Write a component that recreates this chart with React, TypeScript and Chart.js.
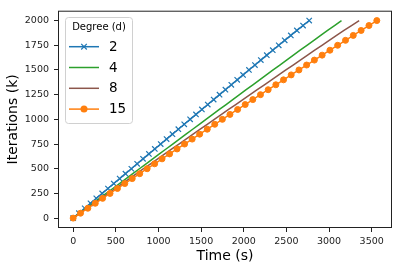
import { useEffect, useRef } from "react";
import { Chart, registerables } from "chart.js";

Chart.register(...registerables);

const iterations = [
  0, 50, 100, 150, 200, 250, 300, 350, 400, 450, 500, 550, 600, 650, 700, 750, 800, 850, 900, 950, 1000,
  1050, 1100, 1150, 1200, 1250, 1300, 1350, 1400, 1450, 1500, 1550, 1600, 1650, 1700, 1750, 1800, 1850, 1900, 1950, 2000,
];

const timeDeg2 = [
  0, 67, 135, 203, 271, 340, 408, 476, 545, 613, 682, 750, 819, 888, 957, 1026, 1095, 1164, 1233, 1302, 1371,
  1440, 1509, 1578, 1647, 1716, 1785, 1854, 1923, 1992, 2061, 2131, 2200, 2270, 2340, 2410, 2480, 2552, 2623, 2695, 2767,
];
const timeDeg4 = [
  0, 77, 154, 232, 309, 387, 465, 543, 621, 699, 777, 855, 933, 1011, 1089, 1167, 1245, 1323, 1401, 1479, 1557,
  1636, 1714, 1793, 1871, 1950, 2028, 2107, 2186, 2265, 2344, 2423, 2502, 2582, 2661, 2741, 2822, 2902, 2983, 3064, 3146,
];
const timeDeg8 = [
  0, 82, 164, 247, 329, 412, 494, 577, 660, 742, 825, 908, 991, 1074, 1157, 1240, 1323, 1406, 1489, 1572, 1655,
  1739, 1822, 1906, 1990, 2074, 2158, 2242, 2326, 2410, 2494, 2579, 2663, 2748, 2832, 2917, 3002, 3088, 3175, 3263, 3353,
];
const timeDeg15 = [
  0, 86, 172, 259, 345, 432, 519, 605, 692, 780, 867, 955, 1042, 1130, 1218, 1306, 1395, 1483, 1572, 1660, 1749,
  1838, 1928, 2017, 2106, 2196, 2286, 2376, 2466, 2556, 2647, 2737, 2828, 2919, 3010, 3101, 3193, 3284, 3376, 3468, 3560,
];

const seriesLabels = ["2", "4", "8", "15"];
const legendTitle = "Degree (d)";
const xTicks = [0, 500, 1000, 1500, 2000, 2500, 3000, 3500];
const yTicks = [0, 250, 500, 750, 1000, 1250, 1500, 1750, 2000];
const xTitle = "Time (s)";
const yTitle = "Iterations (k)";

const FONT = "'DejaVu Sans', sans-serif";
const colors = ["#1f77b4", "#2ca02c", "#8c564b", "#ff7f0e"];
const markers = ["cross", "none", "none", "dot"];

function toPoints(times: number[]) {
  return times.map((t, i) => ({ x: t, y: iterations[i] }));
}

const framePlugin = {
  id: "frame",
  afterDatasetsDraw(chart: any) {
    const { ctx, chartArea } = chart;
    ctx.save();
    ctx.strokeStyle = "#222";
    ctx.lineWidth = 1;
    ctx.strokeRect(chartArea.left + 0.5, chartArea.top + 0.5, chartArea.right - chartArea.left - 1, chartArea.bottom - chartArea.top - 1);
    ctx.restore();
  },
};

const legendPlugin = {
  id: "customLegend",
  afterDraw(chart: any) {
    const ctx = chart.ctx as CanvasRenderingContext2D;
    ctx.save();
    const bx = 65.5, by = 17.5, bw = 67, bh = 106, r = 3;
    ctx.beginPath();
    ctx.moveTo(bx + r, by);
    ctx.lineTo(bx + bw - r, by);
    ctx.arcTo(bx + bw, by, bx + bw, by + r, r);
    ctx.lineTo(bx + bw, by + bh - r);
    ctx.arcTo(bx + bw, by + bh, bx + bw - r, by + bh, r);
    ctx.lineTo(bx + r, by + bh);
    ctx.arcTo(bx, by + bh, bx, by + bh - r, r);
    ctx.lineTo(bx, by + r);
    ctx.arcTo(bx, by, bx + r, by, r);
    ctx.closePath();
    ctx.fillStyle = "rgba(255,255,255,0.8)";
    ctx.fill();
    ctx.strokeStyle = "#d0d0d0";
    ctx.lineWidth = 1;
    ctx.stroke();

    ctx.fillStyle = "#000";
    ctx.font = `10px ${FONT}`;
    ctx.textAlign = "center";
    ctx.textBaseline = "middle";
    ctx.fillText(legendTitle, 99, 27.5);

    chart.data.datasets.forEach((ds: any, i: number) => {
      const y = 46.7 + i * 20.8;
      const kind = markers[i];
      ctx.strokeStyle = ds.borderColor;
      ctx.lineWidth = 1.5;
      ctx.beginPath();
      ctx.moveTo(69, y);
      ctx.lineTo(99, y);
      ctx.stroke();
      if (kind === "cross") {
        ctx.lineWidth = 1.2;
        ctx.beginPath();
        ctx.moveTo(84 - 2.8, y - 2.8);
        ctx.lineTo(84 + 2.8, y + 2.8);
        ctx.moveTo(84 - 2.8, y + 2.8);
        ctx.lineTo(84 + 2.8, y - 2.8);
        ctx.stroke();
      } else if (kind === "dot") {
        ctx.fillStyle = ds.borderColor;
        ctx.beginPath();
        ctx.arc(84, y, 3.5, 0, Math.PI * 2);
        ctx.fill();
      }
      ctx.fillStyle = "#000";
      ctx.font = `13.5px ${FONT}`;
      ctx.textAlign = "left";
      ctx.textBaseline = "middle";
      ctx.fillText(ds.label, 109, y + 0.5);
    });
    ctx.restore();
  },
};

export default function App() {
  const canvasRef = useRef<HTMLCanvasElement | null>(null);

  useEffect(() => {
    if (!canvasRef.current) return;
    const series = [timeDeg2, timeDeg4, timeDeg8, timeDeg15];
    const datasets = series.map((times, i) => ({
      label: seriesLabels[i],
      data: toPoints(times),
      borderColor: colors[i],
      backgroundColor: colors[i],
      pointBackgroundColor: colors[i],
      pointBorderColor: colors[i],
      borderWidth: 1.5,
      pointStyle: markers[i] === "cross" ? "crossRot" : "circle",
      pointRadius: markers[i] === "cross" ? 3.8 : markers[i] === "dot" ? 3 : 0,
      pointBorderWidth: markers[i] === "cross" ? 1.2 : 1,
      pointHoverRadius: 0,
      tension: 0,
      fill: false,
      order: 3 - i,
    }));

    const tickFont = { family: FONT, size: 9.5 };
    const fmt = (v: any) => String(v);
    const chart = new Chart(canvasRef.current, {
      type: "line",
      data: { datasets },
      plugins: [framePlugin, legendPlugin],
      options: {
        animation: false,
        responsive: false,
        devicePixelRatio: 1,
        layout: { padding: { top: 10, right: 11, left: 0, bottom: 0 } },
        plugins: { legend: { display: false }, tooltip: { enabled: false } },
        scales: {
          x: {
            type: "linear",
            min: -178,
            max: 3738,
            afterBuildTicks: (s: any) => {
              s.ticks = xTicks.map((v) => ({ value: v }));
            },
            afterFit: (s: any) => {
              s.height = 42;
            },
            ticks: { font: tickFont, color: "#222", padding: 4, maxRotation: 0, autoSkip: false, callback: fmt },
            grid: { drawOnChartArea: false, drawTicks: true, tickLength: 4, tickColor: "#222", color: "#222" },
            border: { display: false },
            title: { display: true, text: xTitle, color: "#000", font: { family: FONT, size: 14 }, padding: { top: 0, bottom: 5 } },
          },
          y: {
            type: "linear",
            min: -100,
            max: 2100,
            afterBuildTicks: (s: any) => {
              s.ticks = yTicks.map((v) => ({ value: v }));
            },
            afterFit: (s: any) => {
              s.width = 58;
            },
            ticks: { font: tickFont, color: "#222", padding: 5, autoSkip: false, callback: fmt },
            grid: { drawOnChartArea: false, drawTicks: true, tickLength: 4, tickColor: "#222", color: "#222" },
            border: { display: false },
            title: { display: true, text: yTitle, color: "#000", font: { family: FONT, size: 14 }, padding: { top: 5, bottom: 0 } },
          },
        },
      },
    });
    return () => chart.destroy();
  }, []);

  return (
    <div style={{ position: "absolute", left: 0, top: 0, width: 403, height: 270 }}>
      <canvas ref={canvasRef} width={403} height={270} style={{ display: "block", width: 403, height: 270 }} />
    </div>
  );
}
